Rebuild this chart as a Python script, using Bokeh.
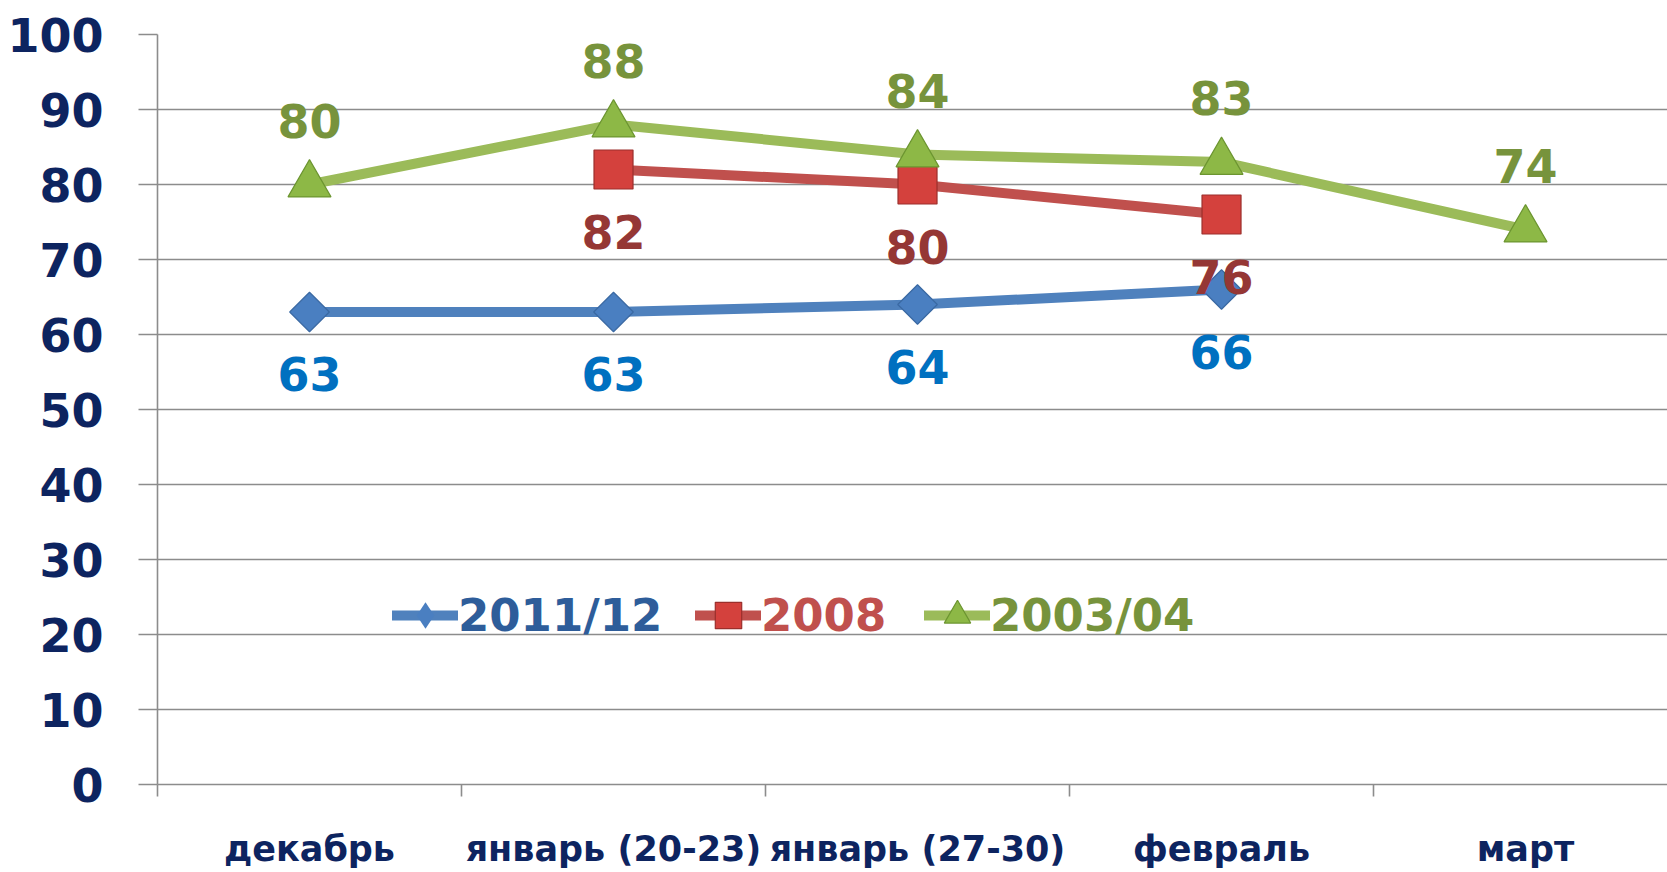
import math
from bokeh.plotting import figure
from bokeh.models import Range1d, FixedTicker, Legend, LegendItem, ColumnDataSource
from bokeh.embed import file_html
from bokeh.resources import INLINE
from bokeh.core.properties import value

categories = ["декабрь", "январь (20-23)", "январь (27-30)", "февраль", "март"]
s2011 = [63, 63, 64, 66, None]
s2008 = [None, 82, 80, 76, None]
s2003 = [80, 88, 84, 83, 74]
series_names = ["2011/12", "2008", "2003/04"]
y_ticks = list(range(0, 101, 10))

FONT = "DejaVu Sans"
NAVY = "#0d2460"
GRID = "#8c8c8c"

p = figure(width=1667, height=872, output_backend="svg", toolbar_location=None,
           x_range=Range1d(0, 4.967), y_range=Range1d(0, 100),
           min_border_left=157, min_border_right=0, min_border_top=34, min_border_bottom=88)
p.outline_line_color = None
p.background_fill_color = "white"
p.border_fill_color = "white"

# grid
p.xgrid.visible = False
p.ygrid.ticker = FixedTicker(ticks=y_ticks)
p.ygrid.grid_line_color = GRID
p.ygrid.grid_line_width = 1.6

# y axis
ya = p.yaxis[0]
ya.ticker = FixedTicker(ticks=y_ticks, minor_ticks=[])
ya.major_tick_out = 19
ya.major_tick_in = 0
ya.major_tick_line_color = GRID
ya.major_tick_line_width = 1.6
ya.axis_line_color = GRID
ya.axis_line_width = 1.6
ya.major_label_standoff = 35
ya.major_label_text_font = FONT
ya.major_label_text_font_size = "46px"
ya.major_label_text_font_style = "bold"
ya.major_label_text_color = NAVY

# x axis: labels at category centres, tick marks at category boundaries
centers = [i + 0.5 for i in range(len(categories))]
bounds = [float(i) for i in range(len(categories))]
xa = p.xaxis[0]
xa.ticker = FixedTicker(ticks=centers, minor_ticks=bounds)
xa.major_label_overrides = {c: lab for c, lab in zip(centers, categories)}
xa.major_tick_line_color = None
xa.major_tick_out = 0
xa.major_tick_in = 0
xa.minor_tick_out = 12
xa.minor_tick_in = 0
xa.minor_tick_line_color = GRID
xa.minor_tick_line_width = 1.6
xa.axis_line_color = GRID
xa.axis_line_width = 1.6
xa.major_label_standoff = 32
xa.major_label_text_font = FONT
xa.major_label_text_font_size = "35px"
xa.major_label_text_font_style = "bold"
xa.major_label_text_color = NAVY


def src(vals):
    xs = [centers[i] for i, v in enumerate(vals) if v is not None]
    ys = [v for v in vals if v is not None]
    return ColumnDataSource(dict(x=xs, y=ys, t=[str(v) for v in ys]))


specs = [
    # values, line color, marker, legend-key marker, fill, edge, size, angle, label color, label offset, legend text color, legend x
    (s2011, "#4f81bd", "square", "diamond", "#4a7fc1", "#3a69a3", 28, math.pi / 4, "#0070c0", 62, "#2e5d9a", 235),
    (s2008, "#c0504d", "square", "square", "#d4413d", "#9b2f2c", 39, 0.0, "#953735", 62, "#c0504d", 538),
    (s2003, "#9bbb59", "triangle", "triangle", "#8db846", "#6c9530", 43, 0.0, "#77933c", -64, "#77933c", 767),
]

sources = [src(sp[0]) for sp in specs]

line_rs = []
for s, sp in zip(sources, specs):
    lr = p.line("x", "y", source=s, line_color=sp[1], line_width=10, line_join="round", line_cap="round")
    line_rs.append(lr)

key_rs = []
for s, sp in zip(sources, specs):
    if sp[3] != sp[2]:
        # key marker for the legend, drawn underneath (hidden by) the plot marker
        key_rs.append(p.scatter("x", "y", source=s, marker=sp[3], size=sp[6],
                                fill_color=sp[4], line_color=sp[4], line_width=0))
    else:
        key_rs.append(None)

marker_rs = []
for s, sp in zip(sources, specs):
    marker_rs.append(p.scatter("x", "y", source=s, marker=sp[2], size=sp[6], angle=sp[7],
                               fill_color=sp[4], line_color=sp[5], line_width=1.2))

for s, sp in zip(sources, specs):
    p.text("x", "y", text="t", source=s, y_offset=sp[9], text_align="center", text_baseline="middle",
           text_font=value(FONT), text_font_size="46px", text_font_style="bold", text_color=sp[8])

for lr, kr, mr, sp, name in zip(line_rs, key_rs, marker_rs, specs, series_names):
    leg = Legend(items=[LegendItem(label=name, renderers=[lr, kr if kr is not None else mr])],
                 location=(sp[11], 130), orientation="horizontal",
                 glyph_width=66, glyph_height=78, label_standoff=0,
                 padding=0, margin=0, border_line_color=None, background_fill_alpha=0,
                 label_text_font=FONT, label_text_font_size="45px", label_text_font_style="bold",
                 label_text_color=sp[10])
    p.add_layout(leg, "center")

open("out.html", "w").write(file_html(p, INLINE))
